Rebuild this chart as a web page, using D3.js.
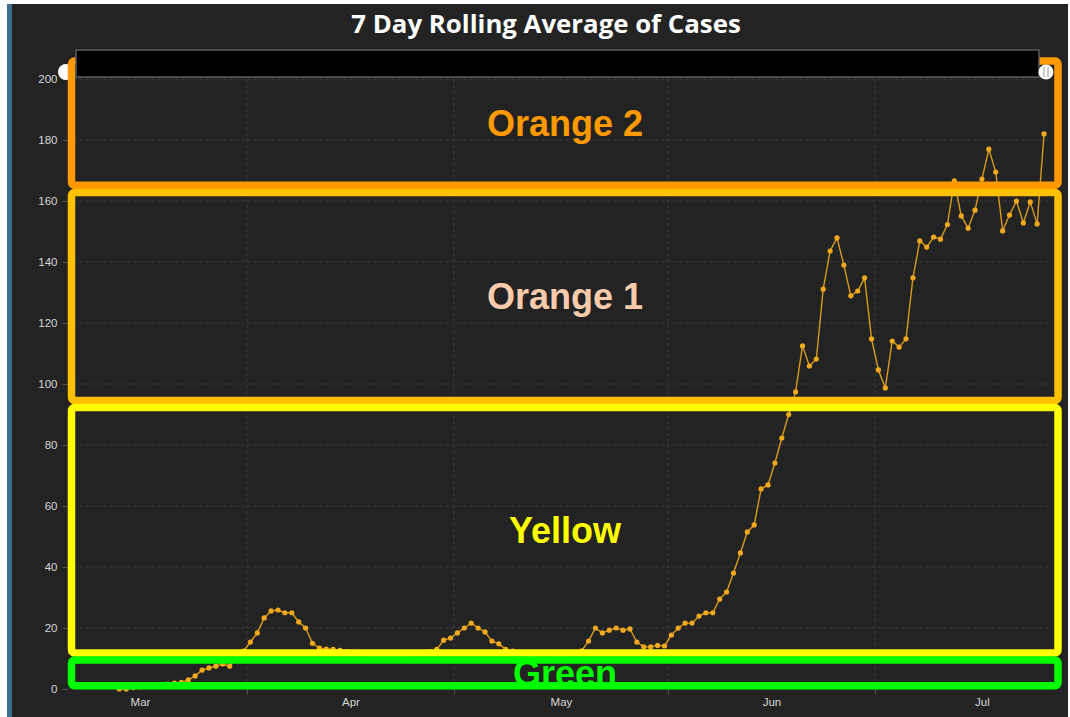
<!DOCTYPE html>
<html>
<head>
<meta charset="utf-8">
<script src="https://cdn.jsdelivr.net/npm/d3@7"></script>
<style>
  html, body { margin: 0; padding: 0; background: #fff; }
  svg { display: block; }
</style>
</head>
<body>
<svg id="chart" width="1070" height="717"></svg>
<script>
// daily 7 day rolling average, one value per day starting 13 Mar
const firstDay = Date.UTC(2020, 2, 13);
const cases = [
  0, 0, 0.5, 0.7, 0.9, 1.2, 1.2, 1.6, 1.9, 2.2,
  3.0, 4.3, 6.2, 6.9, 7.5, 8.2, 7.5, 10.1, 12.4, 15.4,
  18.4, 23.3, 25.6, 25.9, 25.0, 25.0, 22.0, 20.0, 15.0, 13.4,
  13.1, 13.0, 12.7, 12.3, 12.1, 11.6, 11.2, 10.9, 10.7, 10.3,
  10.6, 10.4, 11.0, 11.3, 11.9, 12.2, 13.0, 16.0, 16.7, 18.4,
  20.0, 21.6, 20.0, 18.7, 15.7, 14.8, 13.0, 12.4, 11.7, 11.0,
  10.6, 10.1, 9.9, 10.2, 10.4, 11.0, 11.6, 12.5, 15.7, 20.0,
  18.4, 19.3, 20.0, 19.3, 19.7, 15.4, 13.8, 13.8, 14.3, 14.1,
  17.7, 20.0, 21.6, 21.6, 23.9, 25.0, 25.0, 29.5, 31.8, 38.0,
  44.6, 51.5, 53.8, 65.6, 66.9, 74.1, 82.3, 90.0, 97.4, 112.5,
  105.9, 108.2, 131.1, 143.6, 147.9, 139.0, 128.9, 130.5, 134.8, 114.8,
  104.6, 98.7, 114.1, 112.1, 114.8, 134.8, 146.9, 144.9, 148.2, 147.5,
  152.3, 166.6, 155.1, 151.1, 157.0, 167.2, 177.0, 169.5, 150.2, 155.4,
  160.0, 152.8, 159.7, 152.5, 182.0
];

const yTicks = [0, 20, 40, 60, 80, 100, 120, 140, 160, 180, 200];
const monthLabels = ["Mar", "Apr", "May", "Jun", "Jul"];
const monthIndex = [2, 3, 4, 5, 6];

// hand drawn alert bands (value ranges on the y axis)
const bandNames = ["Orange 2", "Orange 1", "Yellow", "Green"];
const bandTop = [205.9, 162.8, 92.3, 9.5];
const bandBottom = [165.2, 94.6, 11.8, 1.1];
const bandStroke = ["#ff9900", "#ffc000", "#ffff00", "#00ff00"];
const bandText = ["#ff9900", "#f8cbad", "#ffff00", "#00ff00"];

const svg = d3.select("#chart");
const W = 1070, H = 717;
const day = 86400000;

// frame
svg.append("rect").attr("x", 0).attr("y", 0).attr("width", W).attr("height", H).attr("fill", "#fff");
svg.append("rect").attr("x", 7).attr("y", 4).attr("width", 1061).attr("height", H - 4).attr("fill", "#232323");
svg.append("rect").attr("x", 7).attr("y", 4).attr("width", 5).attr("height", H - 4).attr("fill", "#3c6d8e");

svg.append("text")
  .text("7 Day Rolling Average of Cases")
  .attr("x", 546).attr("y", 33)
  .attr("text-anchor", "middle")
  .attr("fill", "#fff")
  .style("font", "700 25.8px 'Open Sans'");

const x = d3.scaleUtc()
  .domain([Date.UTC(2020, 2, 6), Date.UTC(2020, 6, 26)])
  .range([67.5, 1047.5]);

const y = d3.scaleLinear()
  .domain([0, 200])
  .range([689, 79]);

const points = cases.map((v, i) => ({date: new Date(firstDay + i * day + day / 2), value: v}));

// grid
const grid = svg.append("g");
grid.selectAll("line.h")
  .data(yTicks)
  .join("line")
  .attr("class", "h")
  .attr("x1", x.range()[0]).attr("x2", x.range()[1])
  .attr("y1", d => y(d)).attr("y2", d => y(d))
  .attr("stroke", "#3c3c3c")
  .attr("stroke-dasharray", "3,3");

const monthStarts = monthIndex.slice(1).map(m => new Date(Date.UTC(2020, m, 1)));
grid.selectAll("line.v")
  .data(monthStarts)
  .join("line")
  .attr("class", "v")
  .attr("x1", d => x(d)).attr("x2", d => x(d))
  .attr("y1", y(200)).attr("y2", y(0))
  .attr("stroke", "#3c3c3c")
  .attr("stroke-dasharray", "3,3");

// y axis
const yAxis = svg.append("g")
  .attr("transform", `translate(${x.range()[0]},0)`)
  .call(d3.axisLeft(y).tickValues(yTicks).tickSize(5).tickPadding(5));
yAxis.select(".domain").remove();
yAxis.selectAll(".tick line").attr("stroke", "#555");
yAxis.selectAll("text").attr("fill", "#d6d6d6").style("font", "11.5px 'Liberation Sans'");

// x axis: ticks at month starts, labels in the middle of each month
const xTickAxis = svg.append("g")
  .attr("transform", `translate(0,${y(0)})`)
  .call(d3.axisBottom(x).tickValues(monthStarts).tickSize(6).tickFormat(""));
xTickAxis.select(".domain").remove();
xTickAxis.selectAll(".tick line").attr("stroke", "#555");

const monthMids = monthIndex.map(m => new Date((Date.UTC(2020, m, 1) + Date.UTC(2020, m + 1, 1)) / 2));
const xLabelAxis = svg.append("g")
  .attr("transform", `translate(0,${y(0)})`)
  .call(d3.axisBottom(x).tickValues(monthMids).tickSize(0).tickPadding(9)
    .tickFormat((d, i) => monthLabels[i]));
xLabelAxis.select(".domain").remove();
xLabelAxis.selectAll("text").attr("fill", "#d6d6d6").style("font", "11.5px 'Liberation Sans'");

// series
const line = d3.line().x(d => x(d.date)).y(d => y(d.value));
svg.append("path")
  .datum(points)
  .attr("d", line)
  .attr("fill", "none")
  .attr("stroke", "#d99b1c")
  .attr("stroke-width", 1.4);

svg.append("g")
  .selectAll("circle")
  .data(points)
  .join("circle")
  .attr("cx", d => x(d.date))
  .attr("cy", d => y(d.value))
  .attr("r", 2.6)
  .attr("fill", "#f0a91d");

// left scrollbar grip, partly covered by the bands
svg.append("circle").attr("cx", 66).attr("cy", 72).attr("r", 8).attr("fill", "#fff");

// alert bands
const bands = bandNames.map((n, i) => ({name: n, top: bandTop[i], bottom: bandBottom[i], stroke: bandStroke[i], text: bandText[i]}));

svg.append("g")
  .selectAll("rect")
  .data(bands)
  .join("rect")
  .attr("x", 71.5)
  .attr("width", 986.5)
  .attr("y", d => y(d.top))
  .attr("height", d => y(d.bottom) - y(d.top))
  .attr("rx", 3)
  .attr("fill", "none")
  .attr("stroke", d => d.stroke)
  .attr("stroke-width", 7.5)
  .attr("stroke-linejoin", "round");

svg.append("g")
  .selectAll("text")
  .data(bands)
  .join("text")
  .text(d => d.name)
  .attr("x", 565)
  .attr("y", d => (y(d.top) + y(d.bottom)) / 2 + 13)
  .attr("text-anchor", "middle")
  .attr("fill", d => d.text)
  .style("font", "700 36px 'Liberation Sans'");

// scrollbar (blacked out preview) sits on top of the bands
svg.append("rect")
  .attr("x", 76).attr("y", 50).attr("width", 963).attr("height", 27)
  .attr("fill", "#000").attr("stroke", "#5c5c5c").attr("stroke-width", 1.5);
svg.append("circle").attr("cx", 1046).attr("cy", 72).attr("r", 7.5).attr("fill", "#fff");
svg.append("line").attr("x1", 1044).attr("x2", 1044).attr("y1", 67).attr("y2", 77).attr("stroke", "#999");
svg.append("line").attr("x1", 1048).attr("x2", 1048).attr("y1", 67).attr("y2", 77).attr("stroke", "#999");
</script>
</body>
</html>
